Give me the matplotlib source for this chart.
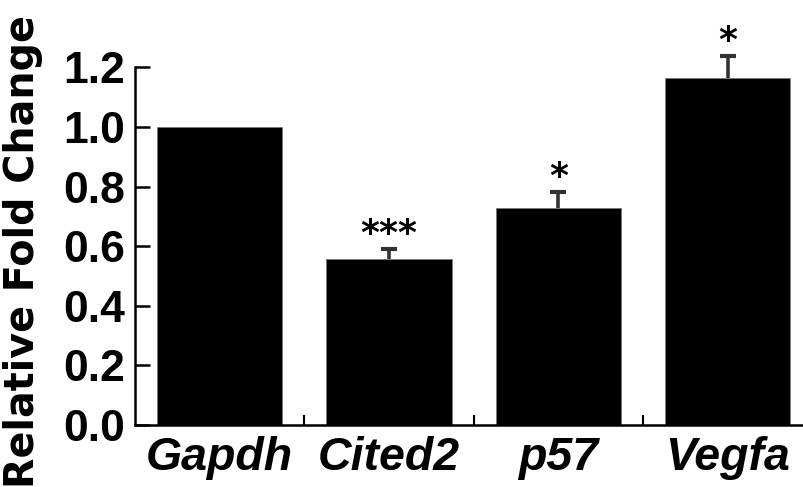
import matplotlib.pyplot as plt
import numpy as np

genes = ["Gapdh", "Cited2", "p57", "Vegfa"]
fold = [1.0, 0.558, 0.729, 1.163]
err = [0.0, 0.034, 0.054, 0.074]
stars = ["", "***", "*", "*"]

fig = plt.figure(figsize=(8.04, 4.87), dpi=100)
ax = fig.add_axes([0.168, 0.127, 0.832, 0.735])

x = np.arange(len(genes))
ax.bar(x, fold, width=0.74, color="black", edgecolor="#777777", linewidth=0.6, zorder=2)
eb = ax.errorbar(x[1:], fold[1:], yerr=[np.zeros(3), err[1:]], fmt="none",
                 ecolor="#333333", elinewidth=2.6, capsize=5.8, capthick=3, zorder=1)
eb[1][0].set_visible(False)  # only the upper cap
for part in list(eb[1]) + list(eb[2]):
    part.set_clip_on(False)

for xi, f, e, s in zip(x, fold, err, stars):
    if s:
        ax.annotate(s, (xi, f + e), xytext=(0, -1.5), textcoords="offset points",
                    ha="center", va="bottom", fontsize=26, fontweight="bold",
                    family="DejaVu Sans", annotation_clip=False)

ax.set_xlim(-0.5, 3.45)
ax.set_ylim(0, 1.2)
ax.set_yticks(np.arange(0, 1.21, 0.2))
ax.set_yticklabels(["%.1f" % v for v in np.arange(0, 1.21, 0.2)],
                   fontsize=32, fontweight="bold", family="Liberation Sans")
ax.set_xticks(x)
ax.set_xticklabels(genes, fontsize=33.5, fontweight="bold", style="italic",
                   family="Liberation Sans")
ax.set_xticks(x[:-1] + 0.5, minor=True)

ax.tick_params(axis="y", direction="in", length=11, width=1.8, pad=7.5)
ax.tick_params(axis="x", which="major", length=0, pad=7.5)
ax.tick_params(axis="x", which="minor", direction="in", length=7, width=1.5)

for sp in ["top", "right"]:
    ax.spines[sp].set_visible(False)
ax.spines["left"].set_linewidth(1.8)
ax.spines["bottom"].set_linewidth(1.8)

ax.set_ylabel("Relative Fold Change", fontsize=28.5, fontweight="bold",
              family="DejaVu Sans")
ax.yaxis.set_label_coords(-0.138, 0.485)

fig.savefig("out.png", dpi=100)
